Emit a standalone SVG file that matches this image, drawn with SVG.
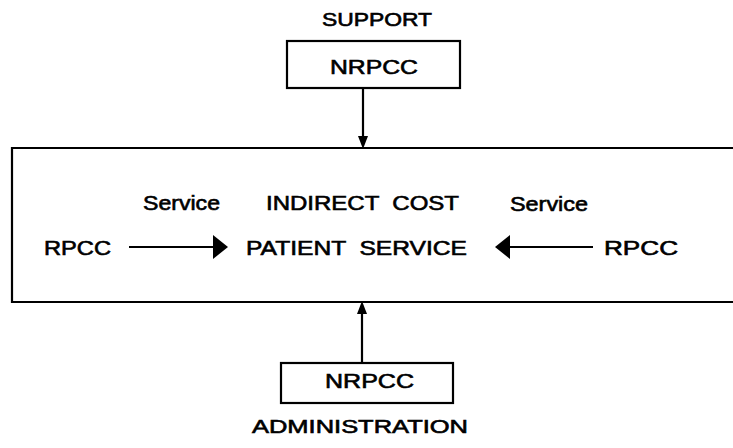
<svg xmlns="http://www.w3.org/2000/svg" width="733" height="448" viewBox="0 0 733 448">
  <style>
    .box { fill: none; stroke: #000; stroke-width: 2.2; }
    .lbl { font-family: "Liberation Sans", Arial, sans-serif; font-size: 20px; fill: #000; stroke: #000; stroke-width: 0.6; }
    .cap { font-size: 18.5px; }
    .wire { stroke: #000; stroke-width: 2.2; fill: none; }
    .head { fill: #000; stroke: none; }
  </style>
  <rect width="733" height="448" fill="#fff"/>

  <!-- support cost centre feeding the indirect cost pool -->
  <g id="support">
    <text class="lbl cap" x="322" y="26" textLength="110" lengthAdjust="spacingAndGlyphs">SUPPORT</text>
    <rect class="box" x="287" y="41" width="173" height="47"/>
    <text class="lbl" x="330" y="74" textLength="88" lengthAdjust="spacingAndGlyphs">NRPCC</text>
  </g>

  <!-- central pool: runs off the right side -->
  <g id="pool">
    <path class="box" d="M733,148 H12 V302 H733"/>
    <text class="lbl" x="266" y="210" textLength="193" lengthAdjust="spacingAndGlyphs" xml:space="preserve">INDIRECT  COST</text>
    <text class="lbl" x="246" y="255" textLength="221" lengthAdjust="spacingAndGlyphs" xml:space="preserve">PATIENT  SERVICE</text>
  </g>

  <g id="rpcc-left">
    <text class="lbl" x="44" y="255" textLength="67" lengthAdjust="spacingAndGlyphs">RPCC</text>
  </g>

  <g id="rpcc-right">
    <text class="lbl" x="604" y="255" textLength="74" lengthAdjust="spacingAndGlyphs">RPCC</text>
  </g>

  <!-- administration cost centre -->
  <g id="administration">
    <rect class="box" x="281" y="363" width="172" height="40"/>
    <text class="lbl" x="325" y="388" textLength="89" lengthAdjust="spacingAndGlyphs">NRPCC</text>
    <text class="lbl cap" x="252" y="433" textLength="216" lengthAdjust="spacingAndGlyphs">ADMINISTRATION</text>
  </g>

  <g id="connectors">
    <!-- support down into pool -->
    <line class="wire" x1="363" y1="88" x2="363" y2="138"/>
    <polygon class="head" points="358,136 368,136 363,149"/>
    <!-- administration up into pool -->
    <line class="wire" x1="362" y1="363" x2="362" y2="312"/>
    <polygon class="head" points="357,314 367,314 362,301"/>
    <!-- left service flow -->
    <line class="wire" x1="129" y1="247" x2="215" y2="247"/>
    <polygon class="head" points="213,235 213,259 228,247"/>
    <text class="lbl" x="143" y="210" textLength="77" lengthAdjust="spacingAndGlyphs">Service</text>
    <!-- right service flow -->
    <line class="wire" x1="593" y1="247" x2="508" y2="247"/>
    <polygon class="head" points="510,235 510,259 495,247"/>
    <text class="lbl" x="510" y="211" textLength="78" lengthAdjust="spacingAndGlyphs">Service</text>
  </g>
</svg>
